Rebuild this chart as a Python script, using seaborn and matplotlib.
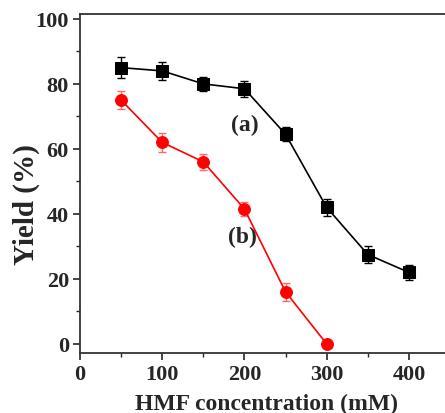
import numpy as np
import pandas as pd
import matplotlib
matplotlib.use("Agg")
import matplotlib.pyplot as plt
import seaborn as sns
from matplotlib.ticker import MultipleLocator

conc_a = [50, 100, 150, 200, 250, 300, 350, 400]
yield_a = [85, 84, 80, 78.5, 64.5, 42, 27.5, 22]
err_a = [3.2, 2.7, 2.2, 2.5, 2.2, 2.7, 2.7, 2.3]

conc_b = [50, 100, 150, 200, 250, 300]
yield_b = [75, 62, 56, 41.5, 16, 0]
err_b = [2.8, 3.0, 2.5, 2.2, 2.8, 0]

sns.set_style("ticks")
plt.rcParams['font.family'] = ['Liberation Serif', 'DejaVu Serif']
plt.rcParams['font.weight'] = 'bold'

fig = plt.figure(figsize=(4.45, 4.14), dpi=100)
ax = fig.add_axes([80/445, (414-354)/414, 370/445, (354-15)/414])

df_a = pd.DataFrame({"x": conc_a, "y": yield_a})
df_b = pd.DataFrame({"x": conc_b, "y": yield_b})

ax.errorbar(conc_a, yield_a, yerr=err_a, fmt='none', ecolor='black', elinewidth=1, capsize=3, capthick=1, zorder=2)
ax.errorbar(conc_b, yield_b, yerr=err_b, fmt='none', ecolor='#ff6b6b', elinewidth=1, capsize=3, capthick=1, zorder=2)
sns.lineplot(data=df_a, x="x", y="y", ax=ax, color='black', marker='s', markersize=8,
             markeredgecolor='black', linewidth=1.2, zorder=3)
sns.lineplot(data=df_b, x="x", y="y", ax=ax, color='red', marker='o', markersize=8.5,
             markeredgecolor='red', linewidth=1.2, zorder=3)

ax.set_xlim(0, 450)
ax.set_ylim(-2.8, 101.5)
ax.xaxis.set_major_locator(MultipleLocator(100))
ax.xaxis.set_minor_locator(MultipleLocator(50))
ax.yaxis.set_major_locator(MultipleLocator(20))
ax.yaxis.set_minor_locator(MultipleLocator(10))
ax.tick_params(which='major', direction='out', length=5, width=1.2, labelsize=16, pad=3)
ax.tick_params(which='minor', direction='out', length=3, width=1.0)
for s in ax.spines.values():
    s.set_linewidth(1.3)
    s.set_color('#333333')

ax.set_xlabel("HMF concentration (mM)", fontsize=17, fontweight='bold')
ax.set_ylabel("Yield (%)", fontsize=21, fontweight='bold')
ax.xaxis.set_label_coords(0.503, -0.118)
ax.yaxis.set_label_coords(-0.107, 0.44)

ax.text(201, 67.5, "(a)", fontsize=17, fontweight='bold', ha='center', va='center')
ax.text(198, 33, "(b)", fontsize=17, fontweight='bold', ha='center', va='center')

fig.savefig("out.png", dpi=100)
